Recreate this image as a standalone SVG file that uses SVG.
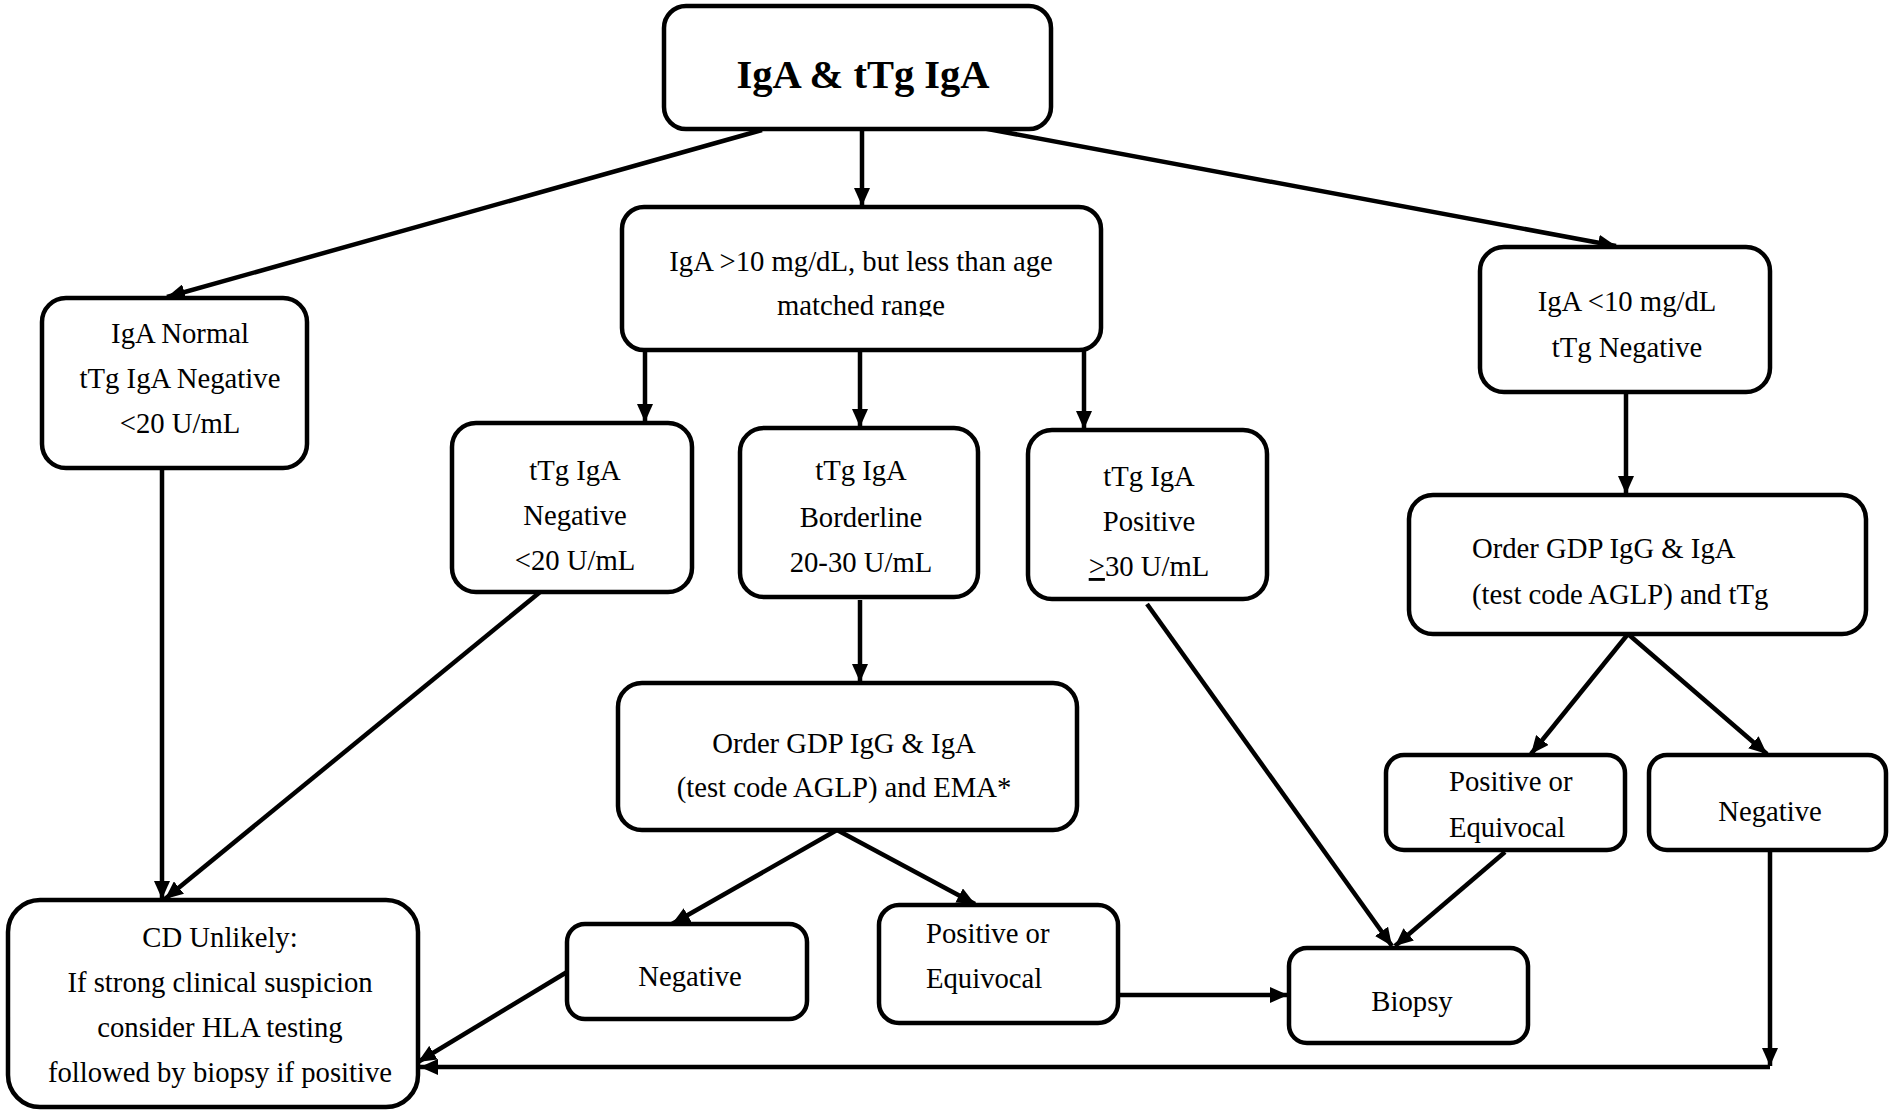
<svg xmlns="http://www.w3.org/2000/svg" width="1891" height="1110" viewBox="0 0 1891 1110">
<style>
.box{fill:#fff;stroke:#000;stroke-width:4.5}
.t{font-family:"Liberation Serif","Times New Roman",serif;font-size:28.7px;fill:#000;text-anchor:middle}
.s{text-anchor:start}
.title{font-size:40.5px;font-weight:bold}
.c{fill:none;stroke:#000;stroke-width:4.5;marker-end:url(#ah)}
</style>
<defs>
<marker id="ah" markerUnits="userSpaceOnUse" markerWidth="20" markerHeight="16" refX="18" refY="8" orient="auto">
<path d="M0,0 L18,8 L0,16 z" fill="#000"/>
</marker>
<clipPath id="midclip"><rect x="600" y="200" width="520" height="116.5"/></clipPath>
</defs>
<rect width="1891" height="1110" fill="#fff"/>
<g id="connectors">
<line class="c" x1="762" y1="130" x2="167" y2="297"/>
<line class="c" x1="862" y1="130" x2="862" y2="206"/>
<line class="c" x1="977" y1="127" x2="1616" y2="246"/>
<line class="c" x1="645" y1="350" x2="645" y2="422"/>
<line class="c" x1="860" y1="350" x2="860" y2="427"/>
<line class="c" x1="1084" y1="350" x2="1084" y2="429"/>
<line class="c" x1="162" y1="468" x2="162" y2="899"/>
<line class="c" x1="545" y1="588" x2="165" y2="899"/>
<line class="c" x1="860" y1="600" x2="860" y2="682"/>
<line class="c" x1="837" y1="830" x2="672" y2="924"/>
<line class="c" x1="837" y1="830" x2="975" y2="904"/>
<line class="c" x1="567" y1="972" x2="418" y2="1062"/>
<line class="c" x1="1118" y1="995" x2="1288" y2="995"/>
<line class="c" x1="1147" y1="604" x2="1392" y2="946"/>
<line class="c" x1="1626" y1="392" x2="1626" y2="494"/>
<line class="c" x1="1628" y1="634" x2="1531" y2="754"/>
<line class="c" x1="1628" y1="634" x2="1767" y2="754"/>
<line class="c" x1="1505" y1="852" x2="1395" y2="946"/>
<line class="c" x1="1770" y1="850" x2="1770" y2="1066"/>
<line class="c" x1="1770" y1="1067" x2="420" y2="1067"/>
</g>
<g id="n-top"><rect class="box" x="664" y="6" width="387" height="123" rx="22"/><text class="t title" x="863" y="88">IgA &amp; tTg IgA</text></g>
<g id="n-mid"><rect class="box" x="622" y="207" width="479" height="143" rx="22"/><g clip-path="url(#midclip)"><text class="t" x="861" y="271">IgA &gt;10 mg/dL, but less than age</text><text class="t" x="861" y="315">matched range</text></g></g>
<g id="n-left"><rect class="box" x="42" y="298" width="265" height="170" rx="24"/><text class="t" x="180" y="343">IgA Normal</text><text class="t" x="180" y="388">tTg IgA Negative</text><text class="t" x="180" y="433">&lt;20 U/mL</text></g>
<g id="n-right"><rect class="box" x="1480" y="247" width="290" height="145" rx="24"/><text class="t" x="1627" y="311">IgA &lt;10 mg/dL</text><text class="t" x="1627" y="357">tTg Negative</text></g>
<g id="n-ttgneg"><rect class="box" x="452" y="423" width="240" height="169" rx="24"/><text class="t" x="575" y="480">tTg IgA</text><text class="t" x="575" y="525">Negative</text><text class="t" x="575" y="570">&lt;20 U/mL</text></g>
<g id="n-border"><rect class="box" x="740" y="428" width="238" height="169" rx="24"/><text class="t" x="861" y="480">tTg IgA</text><text class="t" x="861" y="527">Borderline</text><text class="t" x="861" y="572">20-30 U/mL</text></g>
<g id="n-pos"><rect class="box" x="1028" y="430" width="239" height="169" rx="24"/><text class="t" x="1149" y="486">tTg IgA</text><text class="t" x="1149" y="531">Positive</text><text class="t" x="1149" y="576"><tspan text-decoration="underline">&gt;</tspan>30 U/mL</text></g>
<g id="n-ordermid"><rect class="box" x="618" y="683" width="459" height="147" rx="24"/><text class="t" x="844" y="753">Order GDP IgG &amp; IgA</text><text class="t" x="844" y="797">(test code AGLP) and EMA*</text></g>
<g id="n-orderright"><rect class="box" x="1409" y="495" width="457" height="139" rx="24"/><text class="t s" x="1472" y="558">Order GDP IgG &amp; IgA</text><text class="t s" x="1472" y="604">(test code AGLP) and tTg</text></g>
<g id="n-negmid"><rect class="box" x="567" y="924" width="240" height="95" rx="18"/><text class="t" x="690" y="986">Negative</text></g>
<g id="n-poseqmid"><rect class="box" x="879" y="905" width="239" height="118" rx="20"/><text class="t s" x="926" y="943">Positive or</text><text class="t s" x="926" y="988">Equivocal</text></g>
<g id="n-cd"><rect class="box" x="8" y="900" width="410" height="207" rx="32"/><text class="t" x="220" y="947">CD Unlikely:</text><text class="t" x="220" y="992">If strong clinical suspicion</text><text class="t" x="220" y="1037">consider HLA testing</text><text class="t" x="220" y="1082">followed by biopsy if positive</text></g>
<g id="n-biopsy"><rect class="box" x="1289" y="948" width="239" height="95" rx="18"/><text class="t" x="1412" y="1011">Biopsy</text></g>
<g id="n-poseqright"><rect class="box" x="1386" y="755" width="239" height="95" rx="18"/><text class="t s" x="1449" y="791">Positive or</text><text class="t s" x="1449" y="837">Equivocal</text></g>
<g id="n-negright"><rect class="box" x="1649" y="755" width="237" height="95" rx="18"/><text class="t" x="1770" y="821">Negative</text></g>
</svg>
